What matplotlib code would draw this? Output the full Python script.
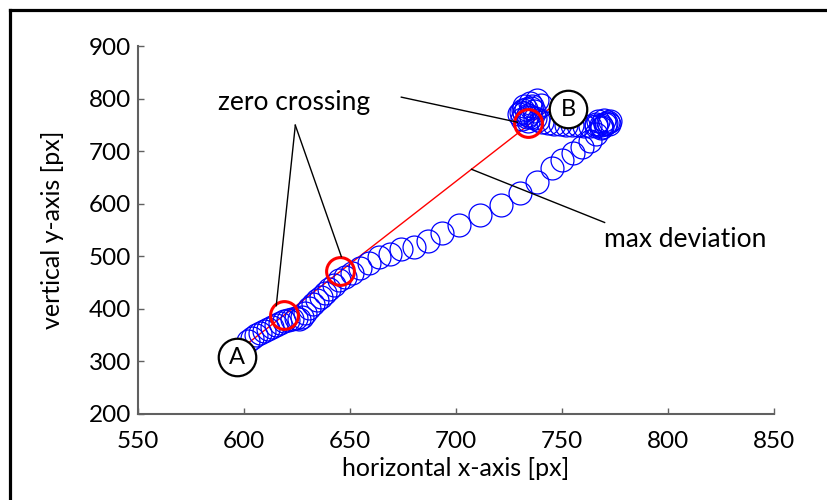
import matplotlib
matplotlib.use("Agg")
import matplotlib.pyplot as plt
from matplotlib.lines import Line2D

plt.rcParams['font.family'] = ['Lato', 'DejaVu Sans']

# gaze samples (px)
traj_x = [602.0, 603.9, 605.7, 607.6, 609.5, 611.4, 613.3, 615.2, 617.1, 619.0,
          620.9, 622.7, 624.6, 626.1, 627.5, 628.9, 630.8, 632.7, 634.6, 636.4,
          638.3, 640.2, 642.6, 645.0, 647.8, 651.1, 654.9, 659.1, 663.8, 669.0,
          674.2, 680.4, 687.0, 693.6, 701.6, 711.1, 721.0, 730.0, 738.0, 745.1,
          749.8, 755.0, 759.3, 763.0, 765.9, 768.2, 770.1, 771.5, 772.5, 770.6,
          768.2, 765.9, 763.0, 760.2, 757.4, 754.5, 751.7, 748.9, 746.0, 743.2,
          740.8, 738.5, 737.1, 735.2, 733.8, 732.3, 731.4, 732.3, 734.7, 738.0,
          735.6, 733.5, 729.5, 730.5, 733.0, 736.0, 731.0, 734.0, 737.0, 740.0,
          767.0, 770.0, 772.0, 769.0, 766.0]
traj_y = [339, 345, 351, 354, 358, 362, 366, 370, 374, 377,
          379, 381, 383, 381, 385, 393, 402, 410, 417, 423,
          431, 438, 446, 454, 461, 469, 478, 488, 498, 505,
          513, 518, 530, 545, 560, 578, 597, 620, 641, 667,
          683, 696, 707, 719, 732, 744, 751, 755, 757, 753,
          749, 747, 747, 747, 749, 749, 749, 751, 751, 753,
          755, 759, 763, 765, 768, 772, 778, 786, 791, 797,
          782, 765, 770, 775, 780, 785, 762, 758, 776, 788,
          758, 760, 752, 746, 752]

# straight reference path from start to end
ref_x = [601.5, 744.1]
ref_y = [333.5, 781.0]

# zero crossings of the deviation
cross_x = [619.0, 645.5, 734.0]
cross_y = [388, 472, 753]

# start / end markers
label_text = ['A', 'B']
label_x = [596.5, 752.9]
label_y = [307.8, 779.8]

# annotation leader lines: (x0, y0, x1, y1)
zero_lines = [(624.2, 749.3, 615.2, 406.0),
              (624.2, 749.3, 645.9, 499.5),
              (674.2, 802.7, 729.0, 755.0)]
dev_line = (707.3, 665.5, 770.1, 564.3)

fig = plt.figure(figsize=(8.27, 5.0), dpi=100)
ax = fig.add_axes([0.1669, 0.172, 0.7690, 0.736])

ax.plot(ref_x, ref_y, color='red', lw=1.0, zorder=2)
ax.plot(traj_x, traj_y, 'o', mfc='none', mec='blue', ms=16.5, mew=0.9, zorder=3)
ax.plot(cross_x, cross_y, 'o', mfc='none', mec='red', ms=20, mew=2.2, zorder=4)

for x0, y0, x1, y1 in zero_lines:
    ax.plot([x0, x1], [y0, y1], color='black', lw=1.0, zorder=5)
ax.plot([dev_line[0], dev_line[2]], [dev_line[1], dev_line[3]],
        color='black', lw=1.0, zorder=5)

ax.text(623.7, 792.5, 'zero crossing', fontsize=19, ha='center', va='center', zorder=7)
ax.text(807.9, 531, 'max deviation', fontsize=19, ha='center', va='center', zorder=7)

ax.plot(label_x, label_y, 'o', mfc='white', mec='black', ms=27, mew=1.6, zorder=6)
for t, x, y in zip(label_text, label_x, label_y):
    ax.text(x, y, t, fontsize=17, ha='center', va='center', zorder=7)

ax.set_xlim(550, 850)
ax.set_ylim(200, 900)
ax.set_xticks([550, 600, 650, 700, 750, 800, 850])
ax.set_yticks([200, 300, 400, 500, 600, 700, 800, 900])
for s in ['top', 'right']:
    ax.spines[s].set_visible(False)
for s in ['left', 'bottom']:
    ax.spines[s].set_color('#606060')
    ax.spines[s].set_linewidth(1.5)
ax.tick_params(direction='in', length=4, width=1, colors='#606060',
               labelcolor='black', labelsize=17.5)
ax.tick_params(axis='x', pad=12)
ax.tick_params(axis='y', pad=5)
ax.set_xlabel('horizontal x-axis [px]', fontsize=18, labelpad=4)
ax.set_ylabel('vertical y-axis [px]', fontsize=18, labelpad=18)

# frame around the figure (left and top edges)
fig.add_artist(Line2D([10 / 827, 10 / 827], [0, 1 - 9.5 / 500],
                      transform=fig.transFigure, color='black', lw=2.3))
fig.add_artist(Line2D([10 / 827, 1], [1 - 9.5 / 500, 1 - 9.5 / 500],
                      transform=fig.transFigure, color='black', lw=2.3))

fig.savefig('out.png', dpi=100)
